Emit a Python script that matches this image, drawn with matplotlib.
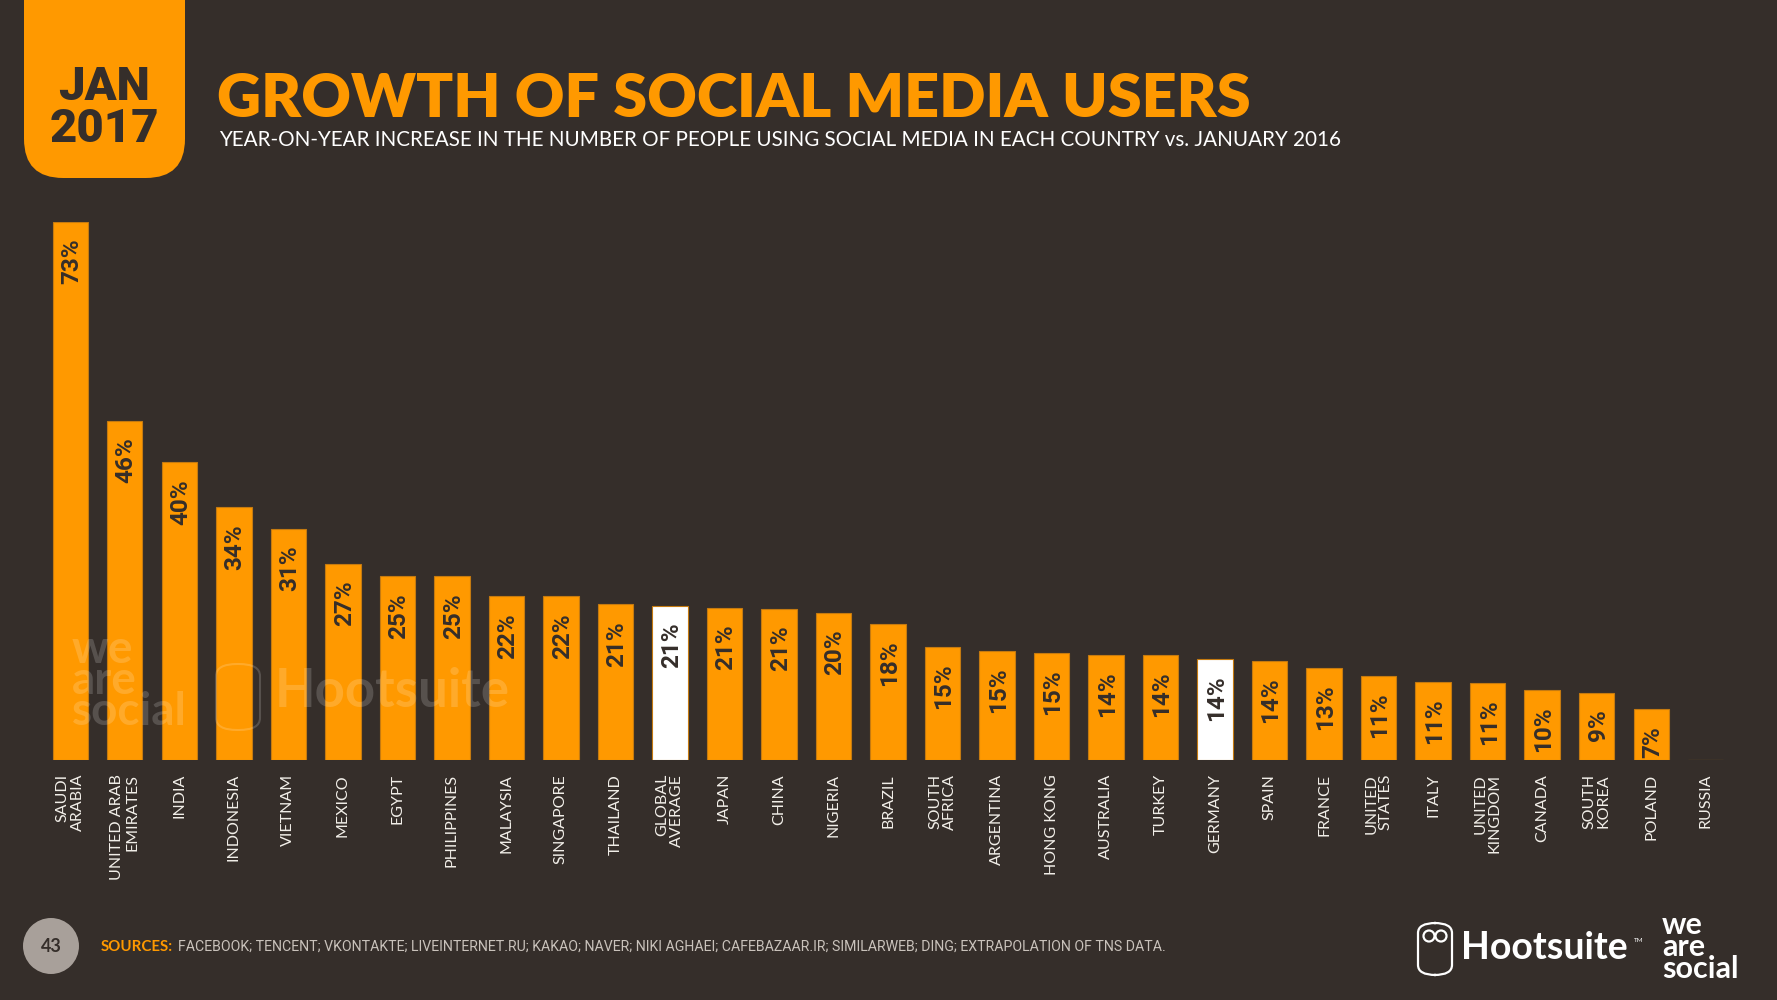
import matplotlib
matplotlib.use('Agg')
import numpy as np
import matplotlib.pyplot as plt
from matplotlib.patches import FancyBboxPatch, Ellipse

BG = '#352e2a'
ORANGE = '#ff9900'
DARK = '#352e2a'

countries = ['SAUDI\nARABIA', 'UNITED ARAB\nEMIRATES', 'INDIA', 'INDONESIA', 'VIETNAM',
             'MEXICO', 'EGYPT', 'PHILIPPINES', 'MALAYSIA', 'SINGAPORE', 'THAILAND',
             'GLOBAL\nAVERAGE', 'JAPAN', 'CHINA', 'NIGERIA', 'BRAZIL', 'SOUTH\nAFRICA',
             'ARGENTINA', 'HONG KONG', 'AUSTRALIA', 'TURKEY', 'GERMANY', 'SPAIN', 'FRANCE',
             'UNITED\nSTATES', 'ITALY', 'UNITED\nKINGDOM', 'CANADA', 'SOUTH\nKOREA',
             'POLAND', 'RUSSIA']
growth = [73.0, 46.0, 40.4, 34.3, 31.4, 26.6, 24.9, 24.9, 22.2, 22.2, 21.1,
          20.9, 20.6, 20.5, 20.0, 18.5, 15.4, 14.8, 14.5, 14.3, 14.3, 13.7, 13.5,
          12.5, 11.4, 10.6, 10.5, 9.5, 9.1, 6.9, 0.0]
labels = ['73%', '46%', '40%', '34%', '31%', '27%', '25%', '25%', '22%', '22%', '21%',
          '21%', '21%', '21%', '20%', '18%', '15%', '15%', '15%', '14%', '14%', '14%',
          '14%', '13%', '11%', '11%', '11%', '10%', '9%', '7%', '']
highlight = ['GLOBAL\nAVERAGE', 'GERMANY']

W, H = 1777, 1000
fig = plt.figure(figsize=(W / 100, H / 100), dpi=100, facecolor=BG)


def fx(px):
    return px / W


def fy(py):
    return 1 - py / H


# watermarks (behind the bars)
fig.text(fx(72), fy(733), 'we\nare\nsocial', color='white', alpha=0.17, fontsize=33,
         fontweight='bold', family='Lato', va='bottom', ha='left', linespacing=0.68)
fig.patches.append(FancyBboxPatch((fx(216), fy(730)), fx(44), 0.066,
                                  boxstyle='round,pad=0,rounding_size=0.012',
                                  transform=fig.transFigure, facecolor='none',
                                  edgecolor='white', alpha=0.17, linewidth=1.5))
fig.text(fx(275), fy(716), 'Hootsuite', color='white', alpha=0.17, fontsize=38,
         fontweight='bold', family='Lato', va='bottom', ha='left')

ax = fig.add_axes([fx(43), fy(760), fx(1733) - fx(43), (760 - 222) / H])
ax.set_facecolor('none')
idx = np.arange(len(countries))
colors = ['white' if c in highlight else ORANGE for c in countries]
ax.bar(idx, growth, width=0.65, color=colors, edgecolor='#c57a10', linewidth=0.8)

for i, (v, lab) in enumerate(zip(growth, labels)):
    if lab:
        ax.annotate(lab, (i, v), xytext=(1, -12), textcoords='offset points',
                    rotation=90, ha='center', va='top', color=DARK, fontsize=17.5,
                    fontweight='bold', family='Roboto')

ax.set_xlim(-0.5, len(countries) - 0.5)
ax.set_ylim(0, 73)
ax.set_xticks(idx)
ax.set_xticklabels(countries, rotation=90, va='top', ha='center', multialignment='right',
                   color='#f2efe9', fontsize=11.5, family='Lato', linespacing=1.05)
ax.tick_params(axis='x', length=0, pad=10)
ax.set_yticks([])
for s in ax.spines.values():
    s.set_visible(False)

# date box
box = FancyBboxPatch((fx(24), fy(178)), fx(185) - fx(24), 0.3,
                     boxstyle='round,pad=0,rounding_size=0.022',
                     transform=fig.transFigure, facecolor=ORANGE, edgecolor='none',
                     mutation_aspect=W / H)
fig.patches.append(box)
fig.text(fx(104), fy(108), 'JAN\n2017', color=DARK, fontsize=34, fontweight='heavy',
         family='Roboto', ha='center', va='center', linespacing=0.95)

# titles
fig.text(fx(217), fy(117), 'GROWTH OF SOCIAL MEDIA USERS', color=ORANGE, fontsize=44,
         fontweight='heavy', family='Lato', ha='left', va='baseline')
fig.text(fx(219), fy(146), 'YEAR-ON-YEAR INCREASE IN THE NUMBER OF PEOPLE USING SOCIAL MEDIA '
         'IN EACH COUNTRY vs. JANUARY 2016', color='white', fontsize=14.9, family='Lato',
         ha='left', va='baseline')

# footer
fig.patches.append(Ellipse((fx(51), fy(946)), 56 / W, 56 / H, transform=fig.transFigure,
                           facecolor='#a8a09a', edgecolor='none'))
fig.text(fx(51), fy(946), '43', color=DARK, fontsize=13, fontweight='bold', family='Lato',
         ha='center', va='center')
fig.text(fx(101), fy(947), 'SOURCES:', color=ORANGE, fontsize=10.8, fontweight='bold',
         family='Lato', ha='left', va='center')
fig.text(fx(178), fy(947), 'FACEBOOK; TENCENT; VKONTAKTE; LIVEINTERNET.RU; KAKAO; NAVER; NIKI AGHAEI; '
         'CAFEBAZAAR.IR; SIMILARWEB; DING; EXTRAPOLATION OF TNS DATA.', color='#c9c2bb',
         fontsize=10.2, family='Roboto', ha='left', va='center')
fig.text(fx(1461), fy(948), 'Hootsuite', color='white', fontsize=27, fontweight='bold',
         family='Lato', ha='left', va='center')
fig.text(fx(1634), fy(940), 'TM', color='white', fontsize=4.5, family='Lato', ha='left',
         va='center')
fig.text(fx(1662), fy(947), 'we\nare\nsocial', color='white', fontsize=22, fontweight='bold',
         family='Lato', ha='left', va='center', linespacing=0.72)
fig.patches.append(FancyBboxPatch((fx(1418), fy(975)), fx(34), 0.052,
                                  boxstyle='round,pad=0,rounding_size=0.01',
                                  transform=fig.transFigure, facecolor='none',
                                  edgecolor='white', linewidth=1.6))
for ex in (1429, 1441):
    fig.patches.append(Ellipse((fx(ex), fy(936)), 11 / W, 11 / H, transform=fig.transFigure,
                               facecolor='none', edgecolor='white', linewidth=1.6))

fig.savefig('out.png', dpi=100, facecolor=BG)
